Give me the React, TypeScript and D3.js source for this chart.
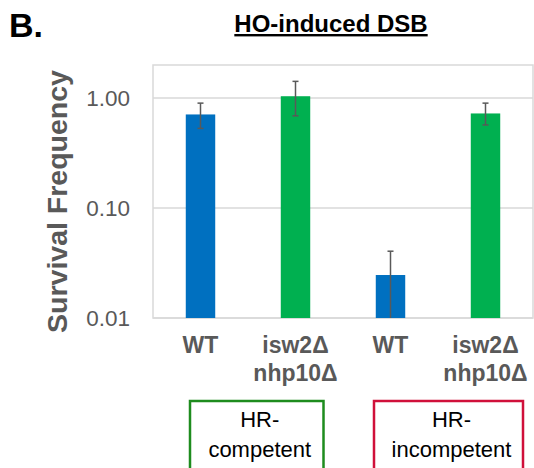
import React from "react";
import * as d3 from "d3";

const categories = ["WT", "isw2Δ\nnhp10Δ", "WT ", "isw2Δ\nnhp10Δ "];
const values = [0.71, 1.04, 0.0246, 0.725];
const errHigh = [0.9, 1.42, 0.0405, 0.9];
const errLow = [0.53, 0.69, 0.01, 0.57];
const barColors = ["#0070C0", "#00B050", "#0070C0", "#00B050"];
const yTicks = [0.01, 0.1, 1];
const groupLabels = ["HR-\ncompetent", "HR-\nincompetent"];
const groupColors = ["#1E8C1E", "#D0103A"];

export default function App() {
  const W = 534, H = 468;
  const left = 153, right = 533, top = 65, bottom = 318;
  const x = d3.scaleBand<string>().domain(categories).range([left, right]).paddingInner(0.69).paddingOuter(0.345);
  const y = d3.scaleLog().domain([0.01, 2]).range([bottom, top]);
  const gray = "#595959";
  const font = "Liberation Sans, Arial, sans-serif";
  const groups = [
    { x0: 190, x1: 323.5 },
    { x0: 374, x1: 523 },
  ];
  return (
    <svg width={W} height={H} style={{ position: "absolute", left: 0, top: 0, background: "#fff" }} fontFamily={font}>
      <rect x={0} y={0} width={W} height={H} fill="#fff" />
      <text x={9} y={37} fontSize={34} fontWeight="bold" fill="#000">B.</text>
      <text x={331} y={32} fontSize={24} fontWeight="bold" fill="#000" textAnchor="middle" textDecoration="underline">HO-induced DSB</text>
      {/* gridlines */}
      {yTicks.map((t) => (
        <line key={t} x1={left} x2={right} y1={y(t)} y2={y(t)} stroke="#D9D9D9" strokeWidth={1.5} />
      ))}
      <rect x={left} y={top} width={right - left} height={bottom - top} fill="none" stroke="#D9D9D9" strokeWidth={1.5} />
      {/* bars */}
      {categories.map((c, i) => (
        <rect key={c} x={x(c)!} y={y(values[i])} width={x.bandwidth()} height={bottom - y(values[i])} fill={barColors[i]} />
      ))}
      {/* error bars */}
      {categories.map((c, i) => {
        const cx = x(c)! + x.bandwidth() / 2;
        return (
          <g key={"e" + c} stroke={gray} strokeWidth={1.5}>
            <line x1={cx} x2={cx} y1={y(errHigh[i])} y2={y(errLow[i])} />
            <line x1={cx - 3} x2={cx + 3} y1={y(errHigh[i])} y2={y(errHigh[i])} />
            {errLow[i] > 0.01 && <line x1={cx - 3} x2={cx + 3} y1={y(errLow[i])} y2={y(errLow[i])} />}
          </g>
        );
      })}
      {/* y tick labels */}
      {yTicks.map((t) => (
        <text key={"t" + t} x={130} y={y(t) + 8} fontSize={22.5} fill={gray} textAnchor="end">
          {d3.format(".2f")(t)}
        </text>
      ))}
      <text transform={`translate(66.5,201.5) rotate(-90)`} fontSize={28.5} fontWeight="bold" fill={gray} textAnchor="middle">
        Survival Frequency
      </text>
      {/* x labels */}
      {categories.map((c) => {
        const cx = x(c)! + x.bandwidth() / 2;
        const lines = c.trim().split("\n");
        return (
          <text key={"x" + c} x={cx} y={353} fontSize={23} fontWeight="bold" fill={gray} textAnchor="middle">
            {lines.map((l, j) => (
              <tspan key={j} x={cx} dy={j === 0 ? 0 : 28}>{l}</tspan>
            ))}
          </text>
        );
      })}
      {/* group boxes */}
      {groupLabels.map((g, i) => {
        const { x0, x1 } = groups[i];
        const cx = (x0 + x1) / 2 + 3;
        const lines = g.split("\n");
        return (
          <g key={g}>
            <rect x={x0} y={401} width={x1 - x0} height={80} fill="none" stroke={groupColors[i]} strokeWidth={2.5} />
            <text x={cx} y={427} fontSize={22} fill="#000" textAnchor="middle">
              {lines.map((l, j) => (
                <tspan key={j} x={cx} dy={j === 0 ? 0 : 30}>{l}</tspan>
              ))}
            </text>
          </g>
        );
      })}
    </svg>
  );
}
